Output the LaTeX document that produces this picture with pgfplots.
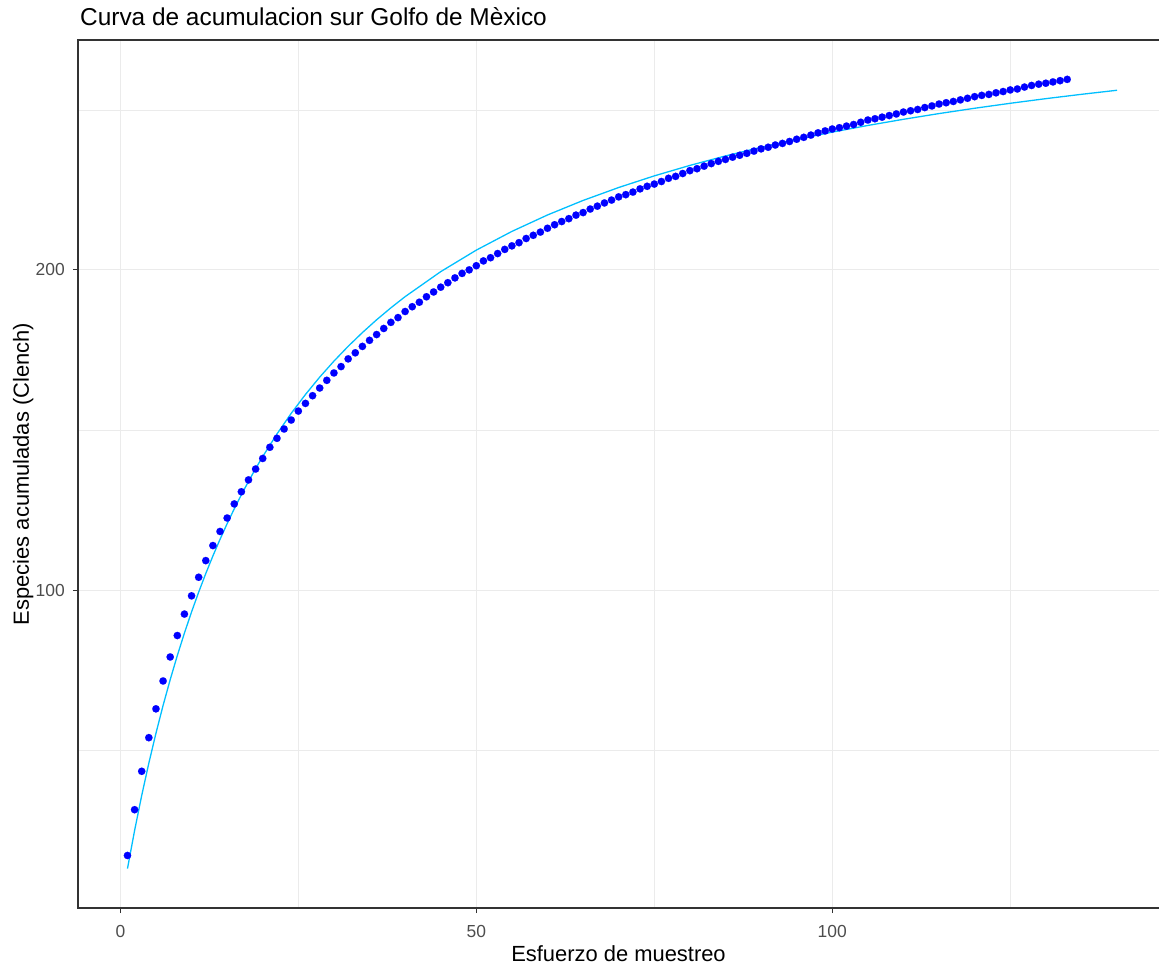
\documentclass[border=0pt]{standalone}
\usepackage{fontspec}
\setmainfont{Liberation Sans}
\usepackage{pgfplots}
\usepackage{pgfplotstable}
\pgfplotsset{compat=1.18}
\definecolor{gridgray}{HTML}{EBEBEB}
\definecolor{tickgray}{HTML}{4D4D4D}
\definecolor{framegray}{HTML}{333333}
\definecolor{deepsky}{HTML}{00BFFF}

\pgfplotstableread{
x y
1 17.1
2 31.4
3 43.4
4 53.9
5 62.9
6 71.6
7 79.1
8 85.8
9 92.5
10 98.2
11 104.0
12 109.2
13 113.9
14 118.3
15 122.5
16 126.9
17 130.7
18 134.4
19 137.8
20 141.1
21 144.6
22 147.4
23 150.3
24 153.1
25 155.9
26 158.3
27 160.7
28 163.1
29 165.5
30 167.8
31 169.8
32 172.2
33 174.1
34 176.1
35 178.0
36 179.8
37 181.7
38 183.6
39 185.1
40 187.0
41 188.5
42 189.9
43 191.6
44 193.1
45 194.6
46 196.0
47 197.5
48 198.9
49 200.0
50 201.3
51 202.8
52 203.8
53 205.1
54 206.4
55 207.5
56 208.5
57 209.8
58 210.8
59 211.8
60 213.0
61 214.1
62 215.1
63 216.0
64 217.1
65 217.9
66 219.0
67 219.9
68 220.9
69 221.8
70 222.8
71 223.5
72 224.3
73 225.3
74 226.1
75 226.8
76 227.6
77 228.6
78 229.2
79 230.1
80 231.0
81 231.6
82 232.4
83 233.2
84 233.9
85 234.5
86 235.2
87 235.8
88 236.4
89 237.1
90 237.8
91 238.3
92 239.0
93 239.5
94 240.1
95 240.8
96 241.4
97 242.1
98 242.8
99 243.4
100 244.0
101 244.4
102 244.9
103 245.4
104 246.1
105 246.8
106 247.2
107 247.7
108 248.2
109 248.7
110 249.3
111 249.7
112 250.1
113 250.7
114 251.2
115 251.8
116 252.2
117 252.6
118 253.1
119 253.6
120 254.1
121 254.5
122 254.8
123 255.3
124 255.7
125 256.2
126 256.5
127 257.1
128 257.6
129 258.0
130 258.3
131 258.7
132 259.1
133 259.5
}\obsdata

\pgfplotstableread{
x y
1 13.00
2 24.90
3 35.85
4 45.94
5 55.28
6 63.95
7 72.01
8 79.54
9 86.57
10 93.16
11 99.35
12 105.17
13 110.66
14 115.84
15 120.74
16 125.38
17 129.77
18 133.95
19 137.93
20 141.71
22 148.76
24 155.19
26 161.08
28 166.50
30 171.50
32 176.13
34 180.42
36 184.42
38 188.15
40 191.64
45 199.45
50 206.17
55 212.02
60 217.15
65 221.69
70 225.73
75 229.36
80 232.63
85 235.59
90 238.29
95 240.76
100 243.02
105 245.11
110 247.03
115 248.82
120 250.48
125 252.03
130 253.48
135 254.83
140 256.10
}\fitdata

\begin{document}
\begin{tikzpicture}
\begin{axis}[
  at={(0,0)}, anchor=south west,
  scale only axis, width=1088.5bp, height=868bp,
  xmin=-5.95, xmax=146.95, ymin=0.7, ymax=271.8,
  axis line style={framegray, line width=1.2bp},
  xtick={0,50,100}, ytick={100,200},
  minor xtick={25,75,125}, minor ytick={50,150,250},
  grid=both,
  major grid style={gridgray, line width=1.1bp},
  minor grid style={gridgray, line width=0.55bp},
  tick align=outside, major tick length=5bp, minor tick length=0pt,
  xtick pos=bottom, ytick pos=left,
  major tick style={framegray, line width=1.1bp},
  /pgf/number format/assume math mode=true,
  ticklabel style={font=\fontsize{17.5}{20}\selectfont, text=tickgray},
  xticklabel style={anchor=base, yshift=-24bp},
  yticklabel style={anchor=east, inner sep=0pt, xshift=-8bp},
]
\addplot[deepsky, line width=1.3bp, no markers] table[x=x, y=y] {\fitdata};
\addplot[only marks, mark=*, mark size=3.7bp, mark options={fill=blue, draw=blue, line width=0.1bp}] table[x=x, y=y] {\obsdata};
\end{axis}
\node[anchor=base west, inner sep=0pt, font=\fontsize{24.5}{28}\selectfont] at (2bp, 882bp) {Curva de acumulacion sur Golfo de Mèxico};
\node[anchor=base, inner sep=0pt, font=\fontsize{22}{26}\selectfont] at (540.5bp, -53bp) {Esfuerzo de muestreo};
\node[anchor=base, rotate=90, inner sep=0pt, font=\fontsize{22}{26}\selectfont] at (-49bp, 434bp) {Especies acumuladas (Clench)};
\pgfresetboundingbox
\useasboundingbox (-78bp,-60bp) rectangle (1081bp,908bp);
\end{tikzpicture}
\end{document}
